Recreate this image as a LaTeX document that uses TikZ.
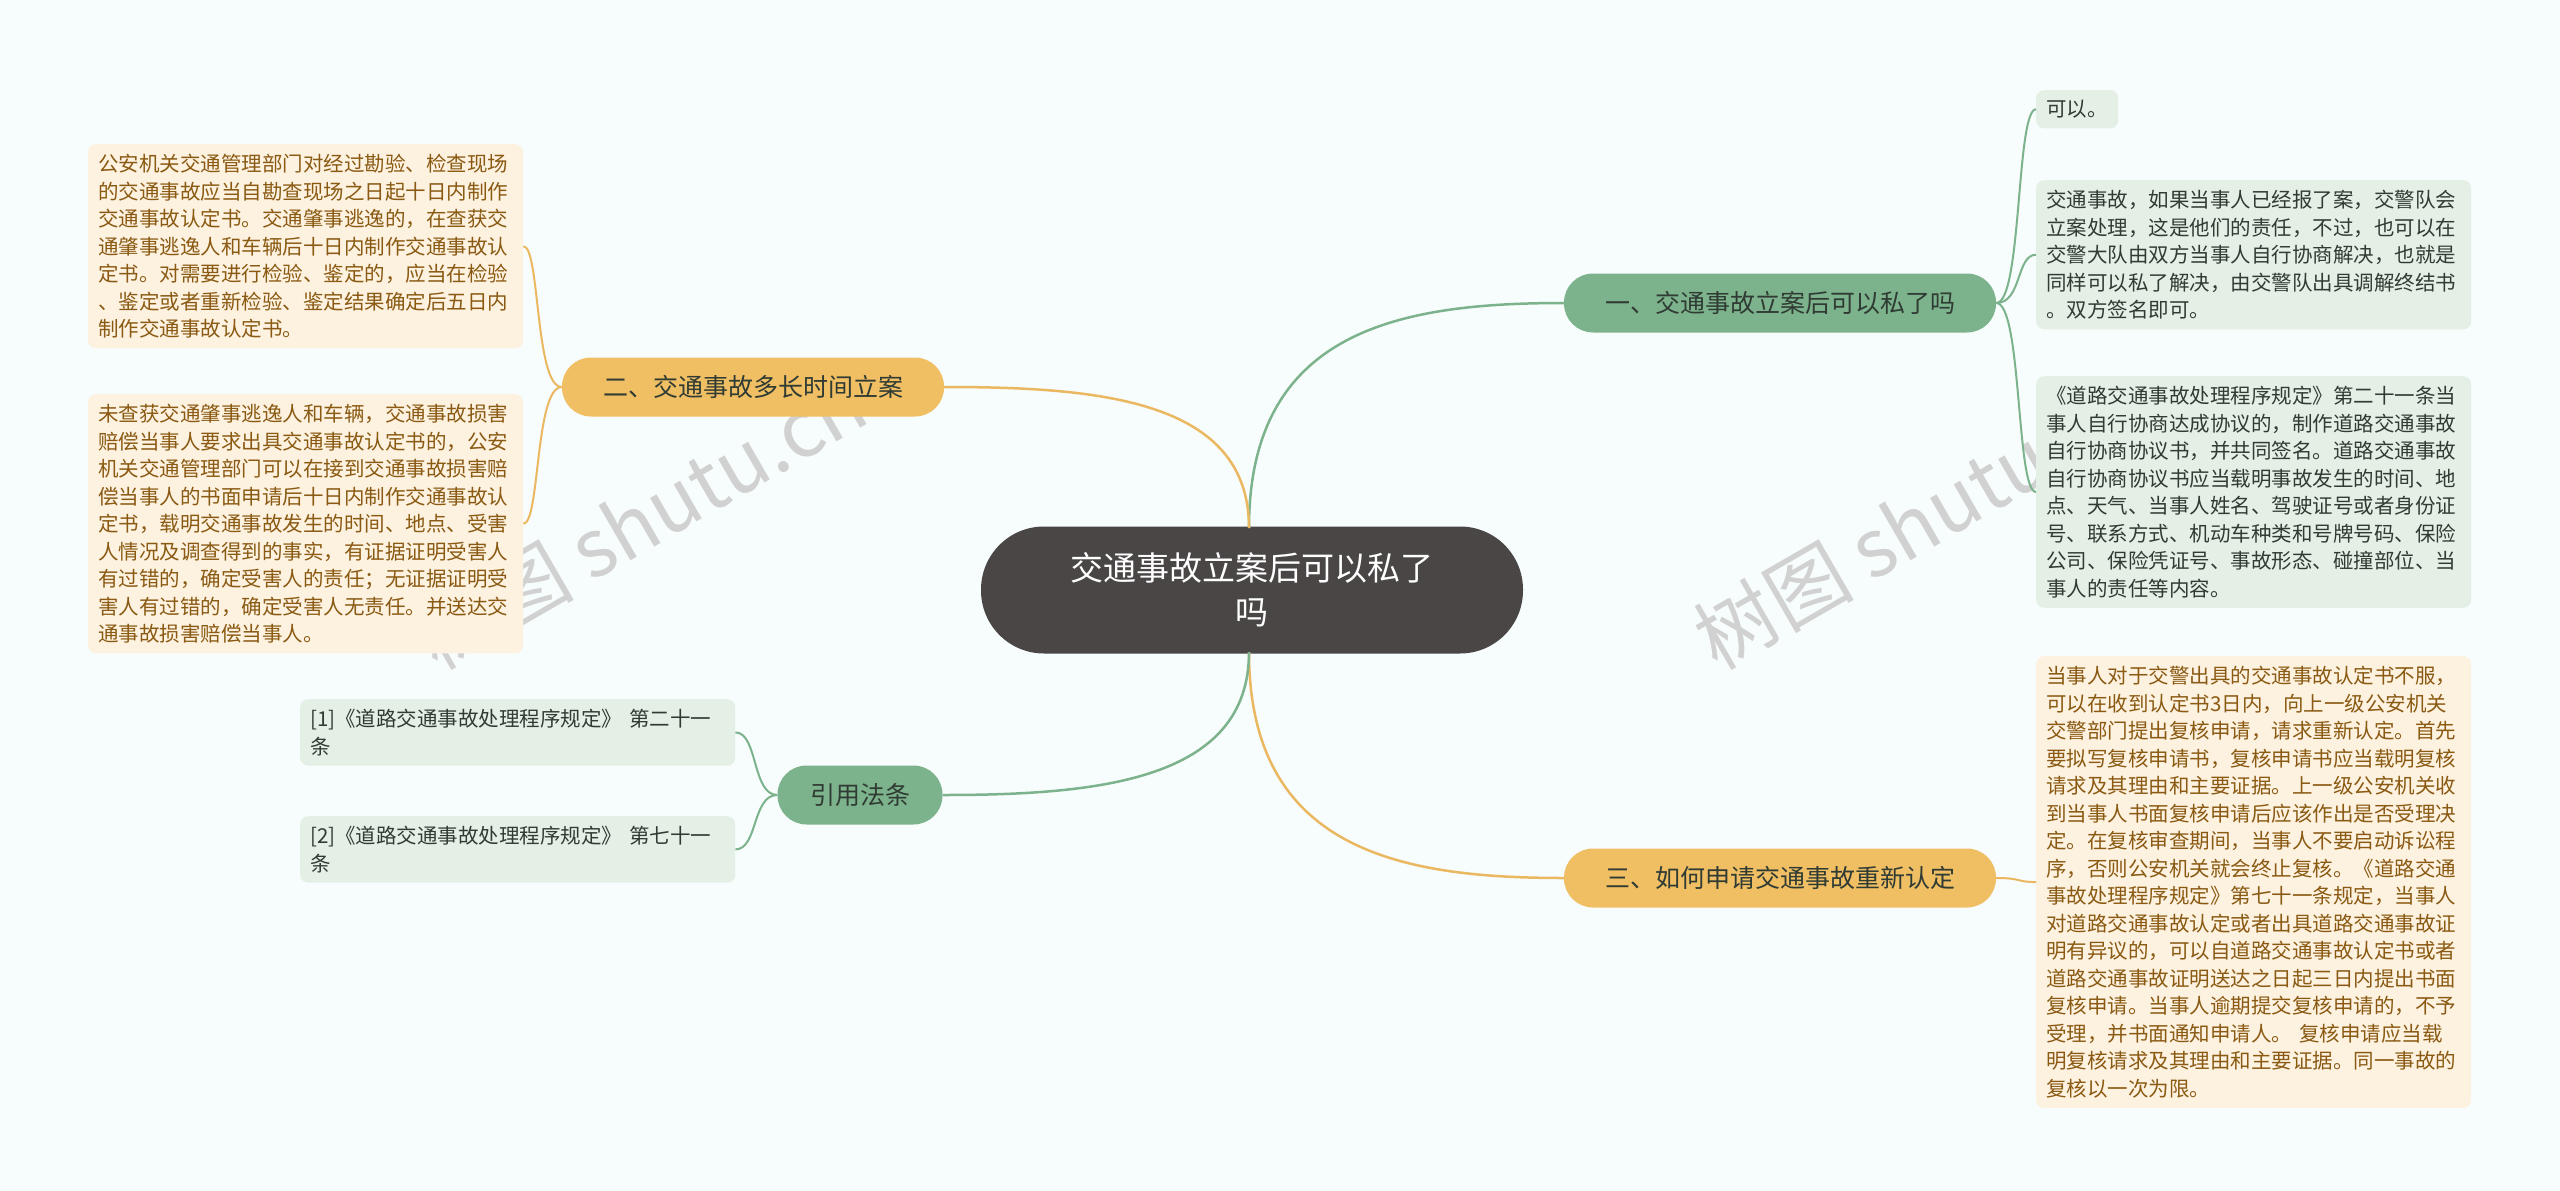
\documentclass[tikz,border=0pt]{standalone}
\usepackage{fontspec}
\setmainfont{Noto Sans CJK SC}
\definecolor{bg}{HTML}{F7FCFC}
\definecolor{gline}{HTML}{7DB38C}
\definecolor{oline}{HTML}{EBB862}
\definecolor{gfill}{HTML}{E4EFE6}
\definecolor{ofill}{HTML}{FDF1E0}
\definecolor{otext}{HTML}{8A5A12}
\definecolor{gtext}{HTML}{2F3B33}
\definecolor{gbranch}{HTML}{7DB38C}
\definecolor{obranch}{HTML}{F0BE63}
\definecolor{center}{HTML}{4A4646}
\tikzset{
 leafg/.style={anchor=north west,fill=gfill,rounded corners=8pt,text width=415pt,inner xsep=10pt,inner ysep=10pt,align=left,text=gtext,font=\fontsize{20.5}{27.5}\selectfont},
 leafo/.style={leafg,fill=ofill,text=otext},
 branchg/.style={fill=gbranch,rounded corners=29pt,minimum height=59pt,text=gtext,font=\fontsize{25}{30}\selectfont,inner xsep=20pt},
 brancho/.style={branchg,fill=obranch},
 gl/.style={draw=gline,line width=2.5pt},
 ol/.style={draw=oline,line width=2.5pt},
}
\begin{document}
\begin{tikzpicture}[x=1pt,y=-1pt]
\fill[bg] (0,0) rectangle (2560,1191);
\useasboundingbox (0,0) rectangle (2560,1191);
\node[rotate=30,text=black!18,font=\fontsize{80}{80}\selectfont] at (640,520) {树图 shutu.cn};
\node[rotate=30,text=black!18,font=\fontsize{80}{80}\selectfont] at (1920,520) {树图 shutu.cn};

\node[fill=center,rounded corners=63pt,minimum width=542pt,minimum height=127pt,text=white,align=center,font=\fontsize{33}{44}\selectfont] (c) at (1252,590) {交通事故立案后可以私了\\吗};

\node[branchg,minimum width=432pt] (b1) at (1780,303) {一、交通事故立案后可以私了吗};
\node[brancho,minimum width=382pt] (b2) at (753,387) {二、交通事故多长时间立案};
\node[branchg,minimum width=165pt] (b4) at (860,795) {引用法条};
\node[brancho,minimum width=432pt] (b3) at (1780,878) {三、如何申请交通事故重新认定};

\coordinate (ct) at (1249,528);
\coordinate (cb) at (1249,652);
\coordinate (xr) at (2016,0);
\coordinate (xl) at (540,0);
\coordinate (xf) at (758,0);
\draw[gl] (ct) .. controls (1249,330) and (1400,303) .. (b1.west);
\draw[ol] (ct) .. controls (1249,400) and (1100,387) .. (b2.east);
\draw[ol] (cb) .. controls (1249,850) and (1400,878) .. (b3.west);
\draw[gl] (cb) .. controls (1249,780) and (1100,795) .. (b4.east);

\node[leafg,text width=62pt] (r1) at (2036,90) {可以。};
\node[leafg] (r2) at (2036,180) {交通事故，如果当事人已经报了案，交警队会\\立案处理，这是他们的责任，不过，也可以在\\交警大队由双方当事人自行协商解决，也就是\\同样可以私了解决，由交警队出具调解终结书\\。双方签名即可。};
\node[leafg] (r3) at (2036,376) {《道路交通事故处理程序规定》第二十一条当\\事人自行协商达成协议的，制作道路交通事故\\自行协商协议书，并共同签名。道路交通事故\\自行协商协议书应当载明事故发生的时间、地\\点、天气、当事人姓名、驾驶证号或者身份证\\号、联系方式、机动车种类和号牌号码、保险\\公司、保险凭证号、事故形态、碰撞部位、当\\事人的责任等内容。};
\node[leafo] (r4) at (2036,656) {当事人对于交警出具的交通事故认定书不服，\\可以在收到认定书3日内，向上一级公安机关\\交警部门提出复核申请，请求重新认定。首先\\要拟写复核申请书，复核申请书应当载明复核\\请求及其理由和主要证据。上一级公安机关收\\到当事人书面复核申请后应该作出是否受理决\\定。在复核审查期间，当事人不要启动诉讼程\\序，否则公安机关就会终止复核。《道路交通\\事故处理程序规定》第七十一条规定，当事人\\对道路交通事故认定或者出具道路交通事故证\\明有异议的，可以自道路交通事故认定书或者\\道路交通事故证明送达之日起三日内提出书面\\复核申请。当事人逾期提交复核申请的，不予\\受理，并书面通知申请人。 复核申请应当载\\明复核请求及其理由和主要证据。同一事故的\\复核以一次为限。};
\node[leafo] (l1) at (88,144) {公安机关交通管理部门对经过勘验、检查现场\\的交通事故应当自勘查现场之日起十日内制作\\交通事故认定书。交通肇事逃逸的，在查获交\\通肇事逃逸人和车辆后十日内制作交通事故认\\定书。对需要进行检验、鉴定的，应当在检验\\、鉴定或者重新检验、鉴定结果确定后五日内\\制作交通事故认定书。};
\node[leafo] (l2) at (88,394) {未查获交通肇事逃逸人和车辆，交通事故损害\\赔偿当事人要求出具交通事故认定书的，公安\\机关交通管理部门可以在接到交通事故损害赔\\偿当事人的书面申请后十日内制作交通事故认\\定书，载明交通事故发生的时间、地点、受害\\人情况及调查得到的事实，有证据证明受害人\\有过错的，确定受害人的责任；无证据证明受\\害人有过错的，确定受害人无责任。并送达交\\通事故损害赔偿当事人。};
\node[leafg] (f1) at (300,699) {[1]《道路交通事故处理程序规定》 第二十一\\条};
\node[leafg] (f2) at (300,816) {[2]《道路交通事故处理程序规定》 第七十一\\条};

\foreach \n in {r1,r2,r3} \draw[gl,line width=2pt] (b1.east) .. controls (2022,303) and (xr |- \n.west) .. (\n.west);
\draw[ol,line width=2pt] (b3.east) .. controls (2022,878) and (xr |- r4.west) .. (r4.west);
\foreach \n in {l1,l2} \draw[ol,line width=2pt] (b2.west) .. controls (535,387) and (xl |- \n.east) .. (\n.east);
\foreach \n in {f1,f2} \draw[gl,line width=2pt] (b4.west) .. controls (752,795) and (xf |- \n.east) .. (\n.east);
\end{tikzpicture}
\end{document}
